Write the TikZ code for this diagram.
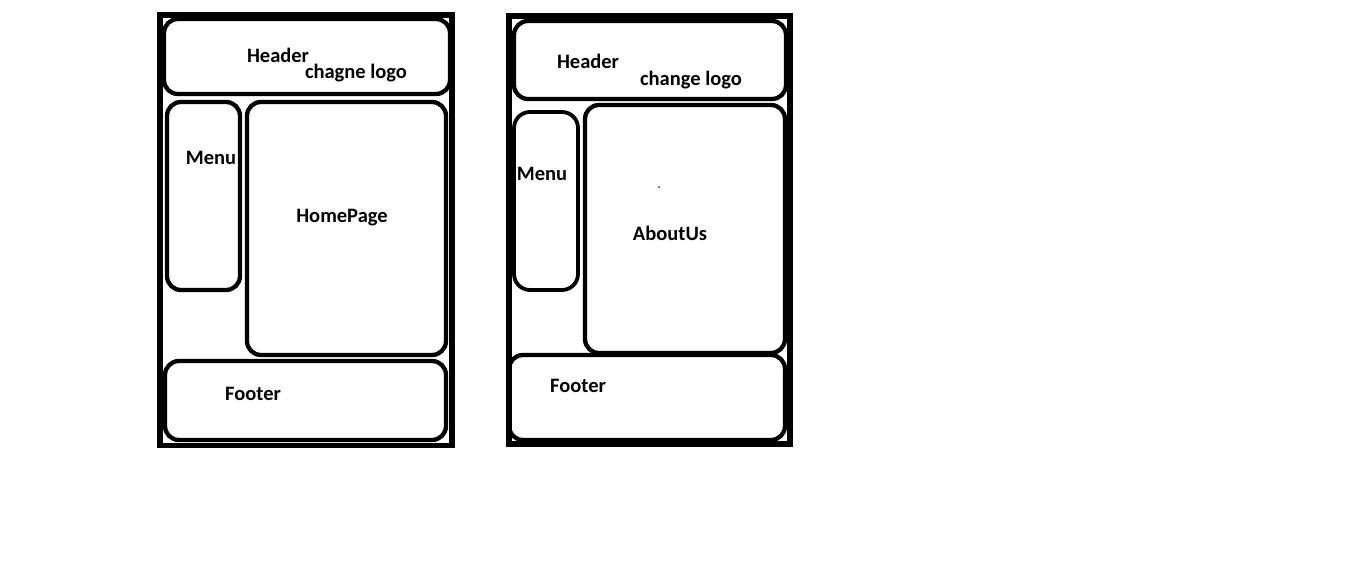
\documentclass[tikz,border=0pt]{standalone}
\usepackage{fontspec}
\setmainfont{Carlito}
\begin{document}
\begin{tikzpicture}[x=1pt,y=-1pt,
  frame/.style={draw=black,line width=5.5pt,inner sep=0pt},
  panel/.style={draw=black,line width=4.3pt,rounded corners=14pt,inner sep=0pt},
  lbl/.style={font=\fontsize{20.5}{24}\selectfont\bfseries,inner sep=0pt}]
\useasboundingbox[fill=white] (0,0) rectangle (1357,564);
% left wireframe
\node[frame,minimum width=292pt,minimum height=430pt] (lout) at (306,230.25) {};
\node[panel,minimum width=286pt,minimum height=75pt] (lhead) at (307,56.5) {};
\node[panel,minimum width=73pt,minimum height=188pt] (lmenu) at (203.5,196) {};
\node[panel,minimum width=199pt,minimum height=253pt] (lhome) at (346.5,228.5) {};
\node[panel,minimum width=281pt,minimum height=79pt] (lfoot) at (305.5,400.5) {};
\node[lbl] (lheadt) at (278,55) {Header};
\node[lbl] (llogo) at (356,73) {chagne logo};
\node[lbl] (lmenut) at (211,158) {Menu};
\node[lbl] (lhomet) at (342,218) {HomePage};
\node[lbl] (lfoott) at (253,394) {Footer};
% right wireframe
\node[frame,minimum width=281pt,minimum height=428pt] (rout) at (649.5,230) {};
\node[panel,minimum width=272pt,minimum height=78pt] (rhead) at (650,60) {};
\node[panel,line width=3.8pt,rounded corners=16pt,minimum width=64pt,minimum height=178pt] (rmenu) at (546,201) {};
\node[panel,minimum width=200pt,minimum height=248pt] (rabout) at (685,229) {};
\node[panel,minimum width=276pt,minimum height=85pt] (rfoot) at (647,397.5) {};
\node[lbl] (rheadt) at (588,61) {Header};
\node[lbl] (rlogo) at (691,80) {change logo};
\node[lbl] (rmenut) at (542,174) {Menu};
\node[lbl] (rabt) at (670,233) {AboutUs};
\node[lbl] (rfoott) at (578,386) {Footer};
\fill[black] (659,187) circle (0.8pt);
\end{tikzpicture}
\end{document}
